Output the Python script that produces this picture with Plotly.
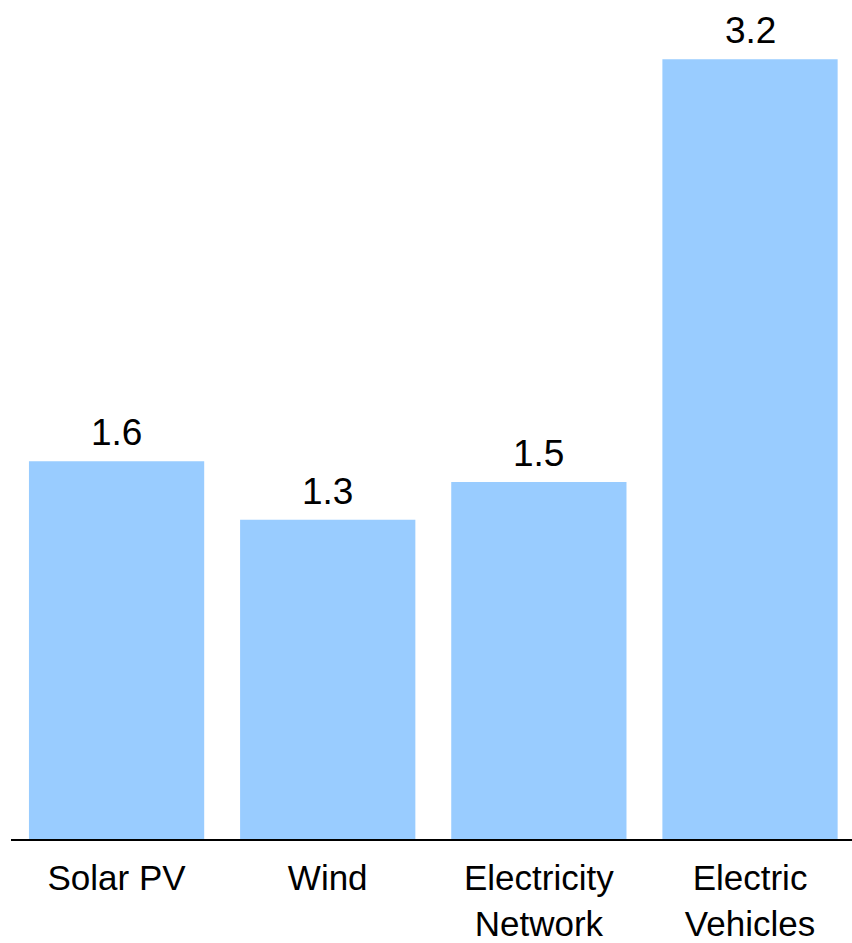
import plotly.graph_objects as go

categories = ["Solar PV", "Wind", "Electricity<br>Network", "Electric<br>Vehicles"]
values = [1.55, 1.31, 1.465, 3.2]
value_labels = ["1.6", "1.3", "1.5", "3.2"]

FONT = "Liberation Sans, Arial, sans-serif"

fig = go.Figure()
fig.add_trace(go.Bar(
    x=categories, y=values,
    marker=dict(color="#99CCFF", line=dict(width=0)),
    hoverinfo="skip",
))

for c, v, t in zip(categories, values, value_labels):
    fig.add_annotation(x=c, y=v, text=t, showarrow=False, yanchor="bottom",
                       yshift=6, font=dict(family=FONT, size=37, color="#000000"))

fig.update_layout(
    width=852, height=943,
    margin=dict(l=11, r=0, t=0, b=104, autoexpand=False),
    paper_bgcolor="white", plot_bgcolor="white",
    bargap=0.17,
    showlegend=False,
    xaxis=dict(range=[-0.5, 3.483], showline=True, linecolor="#000000", linewidth=2,
               ticks="", showgrid=False, zeroline=False, ticklabelstandoff=7,
               automargin=False,
               tickfont=dict(family=FONT, size=35, color="#000000")),
    yaxis=dict(range=[0, 3.443], visible=False, showgrid=False, zeroline=False,
               automargin=False),
)

fig.write_html("out.html")
